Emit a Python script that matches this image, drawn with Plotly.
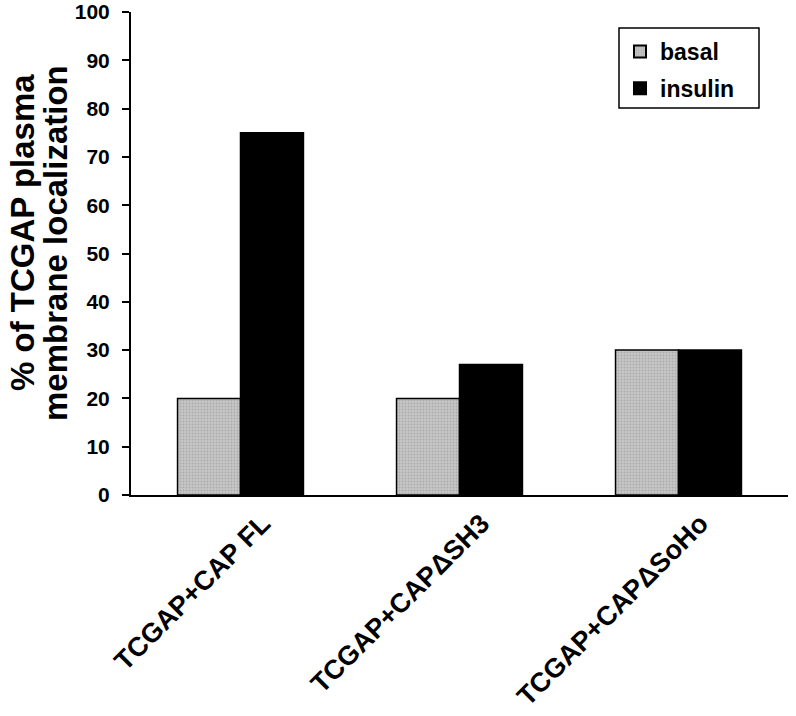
import plotly.graph_objects as go

categories = ["TCGAP+CAP FL", "TCGAP+CAPΔSH3", "TCGAP+CAPΔSoHo"]
basal = [20, 20, 30]
insulin = [75, 27, 30]
y_ticks = [0, 10, 20, 30, 40, 50, 60, 70, 80, 90, 100]
title_lines = ["% of TCGAP plasma", "membrane localization"]

FONT = "Arial, Liberation Sans, sans-serif"
L, R, T, B = 131, 8, 12, 221
PW, PH = 796 - L - R, 716 - T - B


def px_x(x):
    return (x - L) / PW


def px_y(y):
    return (716 - B - y) / PH


fig = go.Figure()
fig.add_trace(go.Bar(
    x=categories, y=basal, name="basal", legendgroup="a",
    marker=dict(color="#b4b4b4", line=dict(color="black", width=1.5),
                pattern=dict(shape=".", fgcolor="#8f8f8f", bgcolor="#c6c6c6", size=3, solidity=0.3)),
))
fig.add_trace(go.Bar(
    x=categories, y=insulin, name="insulin", legendgroup="b",
    marker=dict(color="black", line=dict(color="black", width=1.5)),
))

# y-axis title as two tightly spaced lines
for txt, xpx, ypx in zip(title_lines, [22, 55], [233, 243]):
    fig.add_annotation(
        text=txt, textangle=-90, showarrow=False,
        xref="paper", yref="paper",
        x=px_x(xpx), y=px_y(ypx),
        xanchor="center", yanchor="middle",
        font=dict(family=FONT, size=33, color="black", weight="bold"),
    )

# legend frame
fig.add_shape(type="rect", xref="paper", yref="paper",
              x0=px_x(619), x1=px_x(759), y0=px_y(108), y1=px_y(28),
              line=dict(color="black", width=1.5), fillcolor="rgba(0,0,0,0)", layer="above")

fig.update_layout(
    width=796, height=716,
    margin=dict(l=L, r=R, t=T, b=B),
    paper_bgcolor="white", plot_bgcolor="white",
    barmode="group", bargap=0.425, bargroupgap=0,
    font=dict(family=FONT, color="black"),
    showlegend=True,
    legend=dict(
        x=px_x(620), y=px_y(30), xanchor="left", yanchor="top",
        borderwidth=0, bgcolor="rgba(0,0,0,0)",
        font=dict(family=FONT, size=23, color="black", weight="bold"),
        itemsizing="constant", tracegroupgap=4, itemwidth=30,
    ),
    xaxis=dict(
        showline=True, linecolor="black", linewidth=2,
        ticks="", tickangle=-45, automargin=False,
        ticklabelshift=22,
        tickfont=dict(family=FONT, size=27, color="black", weight="bold"),
        showgrid=False, zeroline=False,
    ),
    yaxis=dict(
        range=[0, 100], tickvals=y_ticks, automargin=False,
        showline=True, linecolor="black", linewidth=2,
        ticks="outside", ticklen=7, tickwidth=2, tickcolor="black",
        ticklabelstandoff=8,
        tickfont=dict(family=FONT, size=21, color="black", weight="bold"),
        showgrid=False, zeroline=False,
    ),
)

fig.write_html("out.html", config={"displayModeBar": False},
               post_script="document.body.style.margin='0';")
